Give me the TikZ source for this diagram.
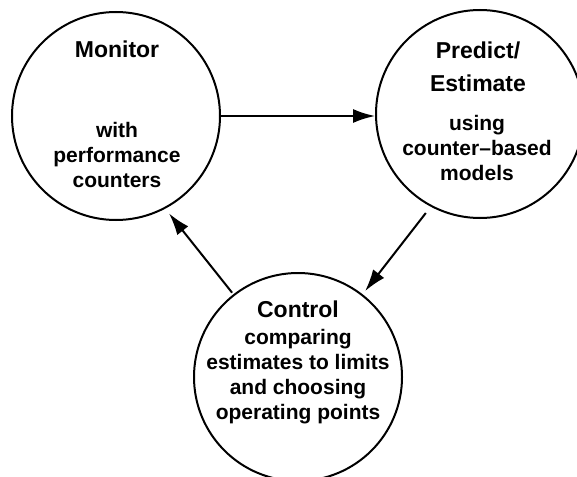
\documentclass[tikz,border=0pt]{standalone}
\usepackage{fontspec}
\setmainfont{Liberation Sans}
\usepackage{tikz}
\usetikzlibrary{arrows.meta}
\tikzset{
	stage/.style={draw=black, line width=1pt, circle, inner sep=0pt, minimum size=104pt},
	title/.style={font=\fontsize{11.5}{16.5}\selectfont\bfseries, align=center, inner sep=0pt},
	body/.style={font=\fontsize{10.5}{12.5}\selectfont\bfseries, align=center, inner sep=0pt},
	flow/.style={draw=black, line width=1pt, -{Latex[length=11pt,width=7pt]}}
}
\begin{document}
\begin{tikzpicture}[x=0.5pt,y=-0.5pt]
		\useasboundingbox (0,0) rectangle (577,476);
		\node[stage] (mon) at (116,116) {};
		\node[stage] (pred) at (480,114) {};
		\node[stage] (ctrl) at (298,377) {};
		\node[title, anchor=base] (montitle) at (117,58) {Monitor};
		\node[body, anchor=north] (monbody) at (117,122) {with\\performance\\counters};
		\node[title, anchor=north] (predtitle) at (478,41) {Predict/\\Estimate};
		\node[body, anchor=north] (predbody) at (477,115) {using\\counter--based\\models};
		\node[title, anchor=base] (ctrltitle) at (298,317) {Control};
		\node[body, anchor=north] (ctrlbody) at (298,329) {comparing\\estimates to limits\\and choosing\\operating points};
		\draw[flow] (mon.east) -- (mon.east -| pred.west);
		\draw[flow, shorten <=4pt, shorten >=2pt] (pred.242) -- (ctrl.52);
		\draw[flow, shorten <=1pt, shorten >=3pt] (ctrl.128) -- (mon.298);
	\end{tikzpicture}
\end{document}
